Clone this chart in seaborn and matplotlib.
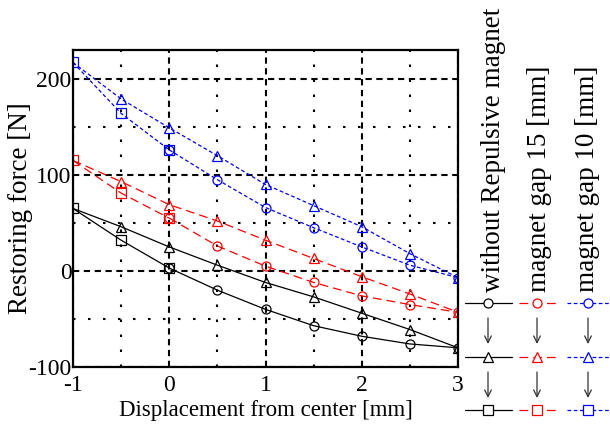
import matplotlib
matplotlib.use("Agg")
import matplotlib.pyplot as plt
import seaborn as sns
import numpy as np
from matplotlib.ticker import MultipleLocator

# ---- data ----
x_circ = [0, 0.5, 1, 1.5, 2, 2.5, 3]
x_tri = [-1, -0.5, 0, 0.5, 1, 1.5, 2, 2.5, 3]
x_sq = [-1, -0.5, 0]

black_circ = [3, -20, -40, -57, -68, -76, -80]
black_tri = [65, 46, 25, 6, -12, -27, -44, -61, -80]
black_sq = [65, 32, 3]

red_circ = [55, 26, 5, -12, -26, -35, -43]
red_tri = [115, 93, 69, 52, 32, 13, -6, -24, -43]
red_sq = [115, 81, 55]

blue_circ = [126, 95, 66, 45, 25, 6, -7]
blue_tri = [217, 179, 149, 120, 90, 68, 46, 18, -7]
blue_sq = [217, 164, 126]

series_labels = ["without Repulsive magnet", "magnet gap 15 [mm]", "magnet gap 10 [mm]"]
x_ticks = [-1, 0, 1, 2, 3]
y_ticks = [-100, 0, 100, 200]

sns.set_theme(style="white")
plt.rcParams["font.family"] = ["Liberation Serif", "DejaVu Serif"]

fig = plt.figure(figsize=(6.1, 4.34), dpi=100)
ax = fig.add_axes([73/610, 1-367/434, (458-73)/610, (367-50)/434])

styles = [
    dict(color="black", linestyle="-"),
    dict(color="red", linestyle=(0, (7, 4))),
    dict(color="blue", linestyle=(0, (3, 2))),
]
groups = [
    (black_circ, black_tri, black_sq),
    (red_circ, red_tri, red_sq),
    (blue_circ, blue_tri, blue_sq),
]
ms = 6.5
for st, (yc, yt, ys) in zip(styles, groups):
    common = dict(ax=ax, lw=0.9, markersize=ms, markerfacecolor="none",
                  markeredgecolor=st["color"], markeredgewidth=0.9,
                  color=st["color"], linestyle=st["linestyle"])
    sns.lineplot(x=x_tri, y=yt, marker="^", markevery=list(range(1, len(x_tri))), **common)
    sns.lineplot(x=x_circ, y=yc, marker="o", **common)
    sns.lineplot(x=x_sq, y=ys, marker="s", **common)

ax.set_xlim(-1, 3)
ax.set_ylim(-100, 230)
ax.set_xticks(x_ticks)
ax.set_yticks(y_ticks)
ax.xaxis.set_minor_locator(MultipleLocator(0.5))
ax.yaxis.set_minor_locator(MultipleLocator(50))
ax.set_axisbelow(True)
ax.grid(which="major", color="black", linestyle=(0, (3, 2.2)), linewidth=1.5)
ax.grid(which="minor", color="black", linestyle=(0, (1.2, 6)), linewidth=1.5)
ax.tick_params(which="both", length=0, labelsize=17, colors="black")
ax.tick_params(axis="y", pad=1)
ax.tick_params(axis="x", pad=6)
for s in ax.spines.values():
    s.set_visible(True)
    s.set_color("black")
    s.set_linewidth(1.6)
ax.set_xticklabels([str(t) for t in x_ticks])
ax.set_yticklabels([str(t) for t in y_ticks])
ax.set_xlabel("Displacement from center [mm]", fontsize=16.5, color="black", labelpad=3)
ax.set_ylabel("Restoring force [N]", fontsize=19.5, color="black")
ax.yaxis.set_label_coords((33 - 73) / 385, 0.5)

# ---- custom legend on the right (pixel coordinates) ----
lg = fig.add_axes([0, 0, 1, 1], facecolor="none")
lg.set_xlim(0, 610)
lg.set_ylim(434, 0)
lg.axis("off")
cols = [(488, 465, 512), (537, 519, 560), (588, 567, 610)]
rows = [(303, "o"), (357, "^"), (410, "s")]
text_x = [494, 539, 587]
for (cx, x0, x1), st, lab, tx in zip(cols, styles, series_labels, text_x):
    for ry, mk in rows:
        lg.plot([x0, x1], [ry, ry], color=st["color"], linestyle=st["linestyle"], lw=0.9)
        lg.plot([cx], [ry], marker=mk, markersize=ms, markerfacecolor="white",
                markeredgecolor=st["color"], markeredgewidth=0.9, linestyle="none")
    for ya, yb in [(318, 344), (372, 398)]:
        lg.annotate("", xy=(cx, yb), xytext=(cx, ya),
                    arrowprops=dict(arrowstyle="->", color="#333333", lw=0.9,
                                    shrinkA=0, shrinkB=0))
    lg.text(tx, 292, lab, rotation=90, ha="center", va="bottom", fontsize=19.5, color="black")

fig.savefig("out.png", dpi=100)
